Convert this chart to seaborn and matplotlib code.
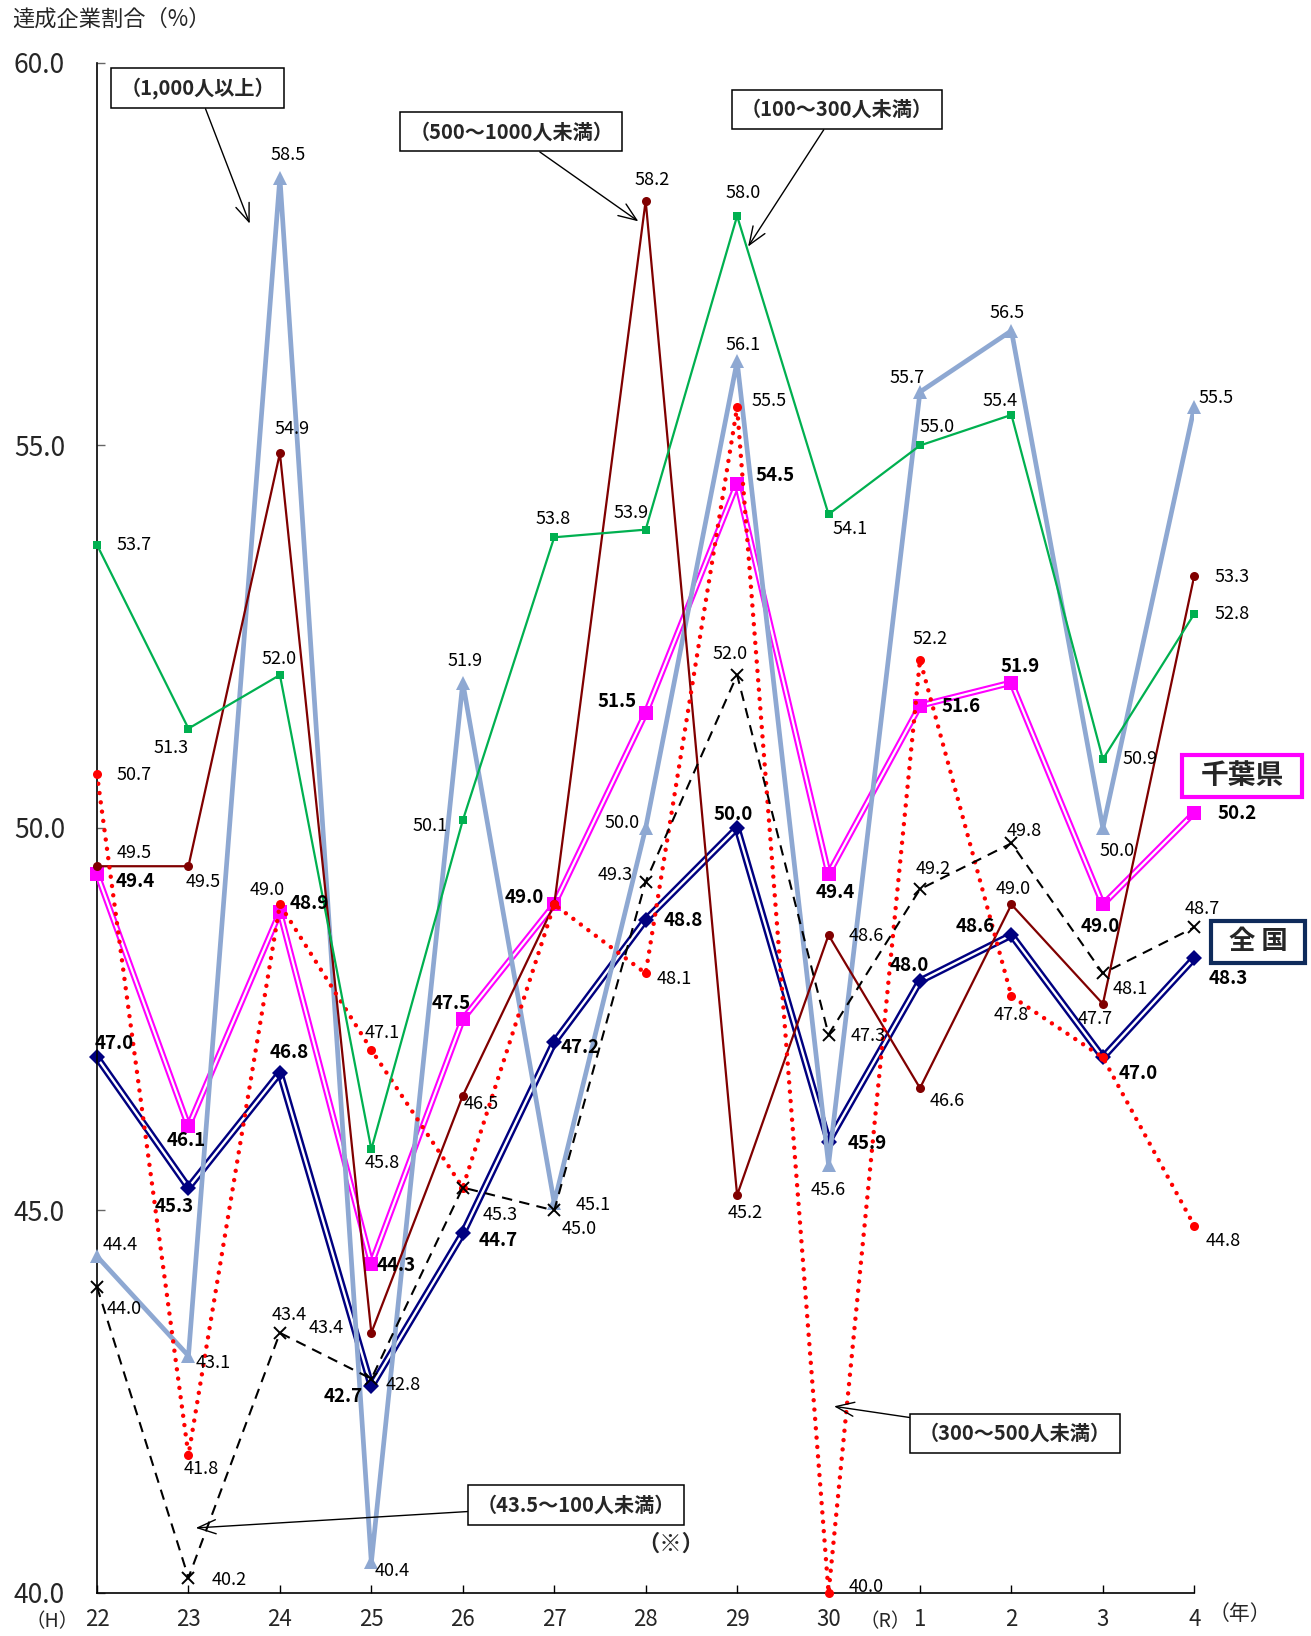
import numpy as np
import pandas as pd
import matplotlib
matplotlib.use("Agg")
import matplotlib.pyplot as plt
from matplotlib.patches import Rectangle
import seaborn as sns

# ---------------- data ----------------
years = ["22", "23", "24", "25", "26", "27", "28", "29", "30", "1", "2", "3", "4"]
s1000 = [44.4, 43.1, 58.5, 40.4, 51.9, 45.1, 50.0, 56.1, 45.6, 55.7, 56.5, 50.0, 55.5]
s500 = [49.5, 49.5, 54.9, 43.4, 46.5, 49.0, 58.2, 45.2, 48.6, 46.6, 49.0, 47.7, 53.3]
s100 = [53.7, 51.3, 52.0, 45.8, 50.1, 53.8, 53.9, 58.0, 54.1, 55.0, 55.4, 50.9, 52.8]
s300 = [50.7, 41.8, 49.0, 47.1, 45.3, 49.0, 48.1, 55.5, 40.0, 52.2, 47.8, 47.0, 44.8]
s435 = [44.0, 40.2, 43.4, 42.8, 45.3, 45.0, 49.3, 52.0, 47.3, 49.2, 49.8, 48.1, 48.7]
chiba = [49.4, 46.1, 48.9, 44.3, 47.5, 49.0, 51.5, 54.5, 49.4, 51.6, 51.9, 49.0, 50.2]
zenkoku = [47.0, 45.3, 46.8, 42.7, 44.7, 47.2, 48.8, 50.0, 45.9, 48.0, 48.6, 47.0, 48.3]
yticks = [40, 45, 50, 55, 60]

# label offsets (pixels, label centre relative to point; None = no label)
off1000 = [(22, -11), (24, 7), (8, -22), (20, 8), (2, -21), (37, 2), (-23, -5), (6, -16),
           (0, 24), (-12, -13), (-4, -17), (14, 22), (21, -9)]
off500 = [(36, -13), (14, 15), (12, -23), (-43, -5), (18, 8), None, (6, -20), (8, 17),
          (36, 1), (26, 12), (2, -15), (-7, 14), (36, 1)]
off100 = [(36, 0), (-17, 19), (-1, -15), (10, 13), (-31, 5), (-1, -18), (-14, -16), (6, -22),
          (21, 14), (16, -18), (-11, -13), (36, 0), (36, 0)]
off300 = [(36, 1), (12, 13), (-12, -14), (10, -16), None, None, (27, 5), (31, -6),
          (36, -6), (10, -20), (0, 18), None, (28, 15)]
off435 = [(26, 21), (39, 2), (9, -17), (31, 6), (36, 26), (24, 18), (-29, -6), (-7, -20),
          (38, 1), (13, -19), (12, -12), (26, 15), (8, -18)]
offchiba = [(37, 7), (-2, 14), (28, -8), (24, 1), (-11, -15), (-29, -7), (-27, -11), (36, -8),
            (6, 18), (39, 1), (8, -15), (-2, 21), (41, 1)]
offzen = [(17, -13), (-14, 18), (9, -19), (-27, 10), (34, 7), (25, 5), (36, 1), (-4, -13),
          (37, 2), (-10, -15), (-35, -8), (34, 15), (33, 20)]

# ---------------- style ----------------
sns.set_theme(style="ticks")
plt.rcParams["font.family"] = ["Noto Sans CJK JP", "DejaVu Sans"]

fig = plt.figure(figsize=(13.11, 16.36), dpi=100)
ax = fig.add_axes([0.074, 0.0263, 0.837, 0.9352])
x = np.arange(len(years))

BLUE = "#8EA8D2"
DRED = "#800000"
GREEN = "#00B050"
RED = "#FF0000"
MAG = "#FF00FF"
NAVY = "#000080"


def line(vals, color, lw, z, ls="-", cap="butt"):
    sns.lineplot(x=x, y=vals, ax=ax, color=color, lw=lw, linestyle=ls, zorder=z,
                 sort=False, errorbar=None, dash_capstyle=cap, solid_capstyle="butt")


def marks(vals, color, marker, ms, z, mew=0.0, mec=None):
    sns.lineplot(x=x, y=vals, ax=ax, color=color, linestyle="none", marker=marker,
                 markersize=ms, markeredgewidth=mew,
                 markeredgecolor=mec if mec else color, markerfacecolor=color,
                 zorder=z, sort=False, errorbar=None, clip_on=False)


def labels(vals, offs, bold=False):
    for i, (v, o) in enumerate(zip(vals, offs)):
        if o is None:
            continue
        ax.annotate(f"{v:.1f}", xy=(i, v), xytext=(o[0] * 0.751, -o[1] * 0.751),
                    textcoords="offset points", ha="center", va="center",
                    fontsize=13.5 if bold else 13,
                    fontweight="bold" if bold else "normal",
                    color="black", zorder=20, annotation_clip=False)


# national (double navy line)
line(zenkoku, NAVY, 5.2, 2)
line(zenkoku, "white", 1.7, 2.1)
marks(zenkoku, NAVY, "D", 8, 2.2)
# Chiba (double magenta line)
line(chiba, MAG, 4.6, 3)
line(chiba, "white", 1.6, 3.1)
marks(chiba, MAG, "s", 10, 3.2)
# 1000+
line(s1000, BLUE, 3.4, 4)
marks(s1000, BLUE, "^", 10, 4.2)
# 500-1000
line(s500, DRED, 1.6, 5)
marks(s500, DRED, "o", 6.5, 5.2)
# 300-500 dotted
line(s300, RED, 3.2, 6, ls=(0, (0.01, 2.1)), cap="round")
marks(s300, RED, "o", 6.5, 6.2)
# 100-300
line(s100, GREEN, 1.6, 7)
marks(s100, GREEN, "s", 6, 7.2)
# 43.5-100 dashed
line(s435, "black", 1.5, 8, ls=(0, (5, 3.5)))
marks(s435, "black", "x", 9, 8.2, mew=1.4, mec="black")

labels(s1000, off1000)
labels(s500, off500)
labels(s100, off100)
labels(s300, off300)
labels(s435, off435)
labels(chiba, offchiba, bold=True)
labels(zenkoku, offzen, bold=True)

# ---------------- axes ----------------
ax.set_xlim(0, 12)
ax.set_ylim(40, 60)
ax.set_xticks(x)
ax.set_xticklabels(years, fontsize=16)
ax.set_yticks(yticks)
ax.set_yticklabels([f"{t:.1f}" for t in yticks], fontsize=19)
ax.tick_params(axis="x", direction="in", length=6, width=1, color="black", pad=11)
ax.tick_params(axis="y", direction="in", length=6, width=1, color="#666666", pad=23)
for s in ["top", "right"]:
    ax.spines[s].set_visible(False)
for s in ["left", "bottom"]:
    ax.spines[s].set_color("black")
    ax.spines[s].set_linewidth(1.2)
ax.set_xlabel("")
ax.set_ylabel("")

xt = ax.get_xaxis_transform()
ax.text(-0.49, -0.019, "（H）", transform=xt, ha="center", va="center", fontsize=14)
ax.text(8.62, -0.019, "（R）", transform=xt, ha="center", va="center", fontsize=14)
ax.text(12.5, -0.014, "（年）", transform=xt, ha="center", va="center", fontsize=15)

fig.text(12 / 1311, 1 - 19 / 1636, "達成企業割合（%）", ha="left", va="center", fontsize=16)

# ---------------- annotation boxes ----------------
boxkw = dict(boxstyle="square,pad=0.45", fc="white", ec="black", lw=1.1)
arrkw = dict(arrowstyle="->,head_length=0.9,head_width=0.35", color="black", lw=1.0,
             shrinkA=0, shrinkB=0)
notes = [
    ("（1,000人以上）", (1.10, 59.67), (1.67, 57.90)),
    ("（500～1000人未満）", (4.53, 59.10), (5.92, 57.93)),
    ("（100～300人未満）", (8.09, 59.39), (7.12, 57.60)),
    ("（300～500人未満）", (10.04, 42.09), (8.06, 42.44)),
    ("（43.5～100人未満）", (5.24, 41.15), (1.08, 40.85)),
]
for txt, tpos, apos in notes:
    ax.annotate(txt, xy=apos, xytext=tpos, textcoords="data", ha="center", va="center",
                fontsize=14.5, fontweight="bold", bbox=boxkw, arrowprops=arrkw,
                zorder=30, annotation_clip=False)

ax.text(6.27, 40.63, "（※）", ha="center", va="center", fontsize=16, fontweight="bold",
        zorder=30)

# legend-like boxes on right
ax.add_patch(Rectangle((0.989, 0.520), 0.109, 0.028, transform=ax.transAxes,
                       fill=True, fc="white", ec=MAG, lw=3, clip_on=False, zorder=30))
ax.text(1.0435, 0.534, "千葉県", transform=ax.transAxes, ha="center", va="center",
        fontsize=20, fontweight="bold", zorder=31)
ax.add_patch(Rectangle((1.015, 0.412), 0.086, 0.027, transform=ax.transAxes,
                       fill=True, fc="white", ec="#0F2B5B", lw=3, clip_on=False, zorder=30))
ax.text(1.058, 0.4255, "全 国", transform=ax.transAxes, ha="center", va="center",
        fontsize=19, fontweight="bold", zorder=31)

fig.savefig("out.png", dpi=100)
